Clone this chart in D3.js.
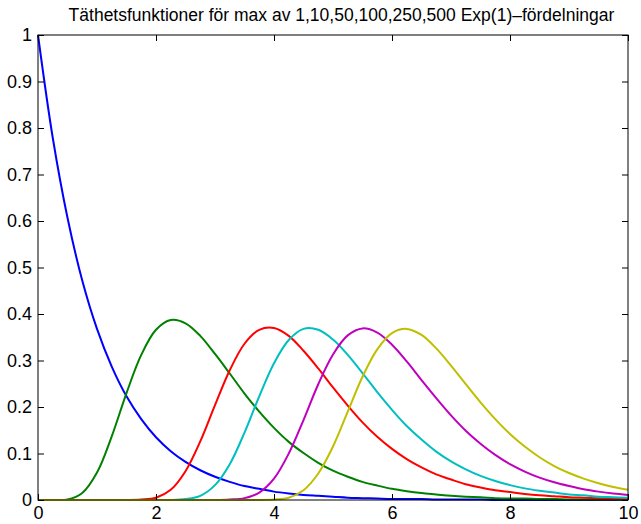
<!DOCTYPE html>
<html>
<head>
<meta charset="utf-8">
<script src="https://cdn.jsdelivr.net/npm/d3@7"></script>
<style>
  body { margin: 0; background: #fff; overflow: hidden; }
  text { font-family: "Liberation Sans", Arial, sans-serif; }
</style>
</head>
<body>
<svg id="chart"></svg>
<script>
// x grid, step 0.25 from 0 to 10
var xs = [0, 0.25, 0.5, 0.75, 1, 1.25, 1.5, 1.75, 2, 2.25, 2.5, 2.75, 3, 3.25, 3.5, 3.75,
          4, 4.25, 4.5, 4.75, 5, 5.25, 5.5, 5.75, 6, 6.25, 6.5, 6.75, 7, 7.25, 7.5, 7.75,
          8, 8.25, 8.5, 8.75, 9, 9.25, 9.5, 9.75, 10];

// densities (n = 1, 10, 50, 100, 250, 500)
var max1 = [1, 0.779, 0.607, 0.472, 0.368, 0.287, 0.223, 0.174, 0.135, 0.105, 0.082, 0.064, 0.050, 0.039, 0.030, 0.024,
            0.018, 0.014, 0.011, 0.009, 0.007, 0.005, 0.004, 0.003, 0.002, 0.002, 0.002, 0.001, 0.001, 0.001, 0.001, 0,
            0, 0, 0, 0, 0, 0, 0, 0, 0];
var max10 = [0, 0, 0.001, 0.015, 0.059, 0.137, 0.230, 0.312, 0.366, 0.387, 0.380, 0.353, 0.314, 0.272, 0.229, 0.190,
             0.155, 0.125, 0.101, 0.080, 0.063, 0.050, 0.039, 0.031, 0.024, 0.019, 0.015, 0.012, 0.009, 0.007, 0.006, 0.004,
             0.003, 0.003, 0.002, 0.002, 0.001, 0.001, 0.001, 0.001, 0];
var max50 = [0, 0, 0, 0, 0, 0, 0, 0.001, 0.005, 0.022, 0.062, 0.126, 0.204, 0.279, 0.336, 0.366,
             0.370, 0.353, 0.321, 0.283, 0.242, 0.203, 0.167, 0.136, 0.110, 0.088, 0.070, 0.055, 0.044, 0.034, 0.027, 0.021,
             0.017, 0.013, 0.010, 0.008, 0.006, 0.005, 0.004, 0.003, 0.002];
var max100 = [0, 0, 0, 0, 0, 0, 0, 0, 0, 0, 0.002, 0.009, 0.032, 0.077, 0.145, 0.223,
              0.294, 0.344, 0.368, 0.366, 0.345, 0.312, 0.273, 0.232, 0.194, 0.159, 0.130, 0.104, 0.083, 0.066, 0.052, 0.041,
              0.032, 0.025, 0.020, 0.016, 0.012, 0.010, 0.007, 0.006, 0.005];
var max250 = [0, 0, 0, 0, 0, 0, 0, 0, 0, 0, 0, 0, 0, 0.001, 0.004, 0.016,
              0.046, 0.100, 0.172, 0.249, 0.313, 0.354, 0.369, 0.360, 0.334, 0.298, 0.258, 0.219, 0.182, 0.149, 0.121, 0.097,
              0.077, 0.061, 0.048, 0.038, 0.030, 0.023, 0.018, 0.014, 0.011];
var max500 = [0, 0, 0, 0, 0, 0, 0, 0, 0, 0, 0, 0, 0, 0, 0, 0,
              0.001, 0.005, 0.021, 0.057, 0.115, 0.190, 0.265, 0.324, 0.359, 0.368, 0.355, 0.326, 0.289, 0.249, 0.210, 0.174,
              0.142, 0.115, 0.092, 0.073, 0.058, 0.046, 0.036, 0.028, 0.022];

var series = [max1, max10, max50, max100, max250, max500];
var colors = ["#0000ff", "#008000", "#ff0000", "#00bfbf", "#bf00bf", "#bfbf00"];

var xTicks = [0, 2, 4, 6, 8, 10];
var yTicks = [0, 0.1, 0.2, 0.3, 0.4, 0.5, 0.6, 0.7, 0.8, 0.9, 1];
var title = "Täthetsfunktioner för max av 1,10,50,100,250,500 Exp(1)–fördelningar";

var width = 641, height = 524;
var margin = {top: 35, right: 13, bottom: 24, left: 38};
var w = width - margin.left - margin.right,
    h = height - margin.top - margin.bottom;

var svg = d3.select("#chart")
    .attr("width", width)
    .attr("height", height)
    .style("display", "block");

var g = svg.append("g")
    .attr("transform", "translate(" + margin.left + "," + margin.top + ")");

var x = d3.scaleLinear().domain([0, 10]).range([0, w]);
var y = d3.scaleLinear().domain([0, 1]).range([h, 0]);

var line = d3.line()
    .x(function(d, i) { return x(xs[i]); })
    .y(function(d) { return y(d); })
    .curve(d3.curveCatmullRom.alpha(0.5));

series.forEach(function(s, i) {
    g.append("path")
        .attr("d", line(s))
        .attr("fill", "none")
        .attr("stroke", colors[i])
        .attr("stroke-width", 2);
});

// box with inward ticks on all four sides (matlab style)
var tickLen = 6;
function styleAxis(sel, showText) {
    sel.select(".domain").remove();
    sel.selectAll(".tick line").attr("stroke", "#000");
    sel.selectAll("text")
        .style("font-size", "18px")
        .attr("fill", "#000");
    if (!showText) sel.selectAll("text").remove();
}

g.append("g")
    .attr("transform", "translate(0," + h + ")")
    .call(d3.axisBottom(x).tickValues(xTicks).tickSize(-tickLen).tickPadding(6).tickFormat(d3.format("d")))
    .call(styleAxis, true);
g.append("g")
    .call(d3.axisTop(x).tickValues(xTicks).tickSize(-tickLen))
    .call(styleAxis, false);
g.append("g")
    .call(d3.axisLeft(y).tickValues(yTicks).tickSize(-tickLen).tickPadding(6).tickFormat(function(d) { return String(+d.toFixed(1)); }))
    .call(styleAxis, true);
g.append("g")
    .attr("transform", "translate(" + w + ",0)")
    .call(d3.axisRight(y).tickValues(yTicks).tickSize(-tickLen))
    .call(styleAxis, false);

g.append("rect")
    .attr("width", w)
    .attr("height", h)
    .attr("fill", "none")
    .attr("stroke", "#000")
    .attr("stroke-width", 1);

svg.append("text")
    .attr("x", 341.5)
    .attr("y", 21)
    .attr("text-anchor", "middle")
    .style("font-size", "17.5px")
    .text(title);
</script>
</body>
</html>
